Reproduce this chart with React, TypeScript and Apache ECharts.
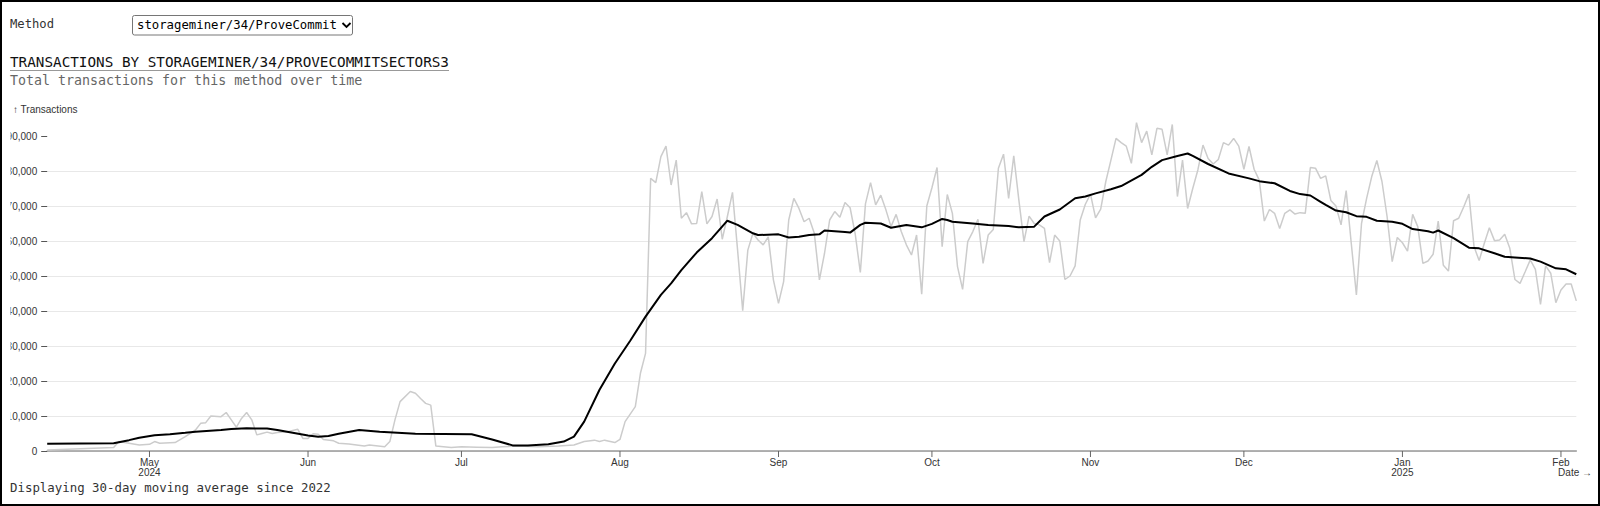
import React, { useEffect, useRef } from "react";
import * as echarts from "echarts";

// Daily transaction counts (gray line)
const daily: [string, number][] = [
  ["2024-04-11", 300], ["2024-04-24", 1000], ["2024-04-25", 2700], ["2024-04-27", 2200],
  ["2024-04-29", 1700], ["2024-05-01", 1900], ["2024-05-02", 2700], ["2024-05-03", 2200],
  ["2024-05-06", 2400], ["2024-05-08", 4100], ["2024-05-10", 6000], ["2024-05-11", 7900],
  ["2024-05-12", 8100], ["2024-05-13", 10000], ["2024-05-15", 9800], ["2024-05-16", 11000],
  ["2024-05-17", 8900], ["2024-05-18", 6800], ["2024-05-19", 9300], ["2024-05-20", 11000],
  ["2024-05-21", 8900], ["2024-05-22", 4600], ["2024-05-23", 5000], ["2024-05-24", 5400],
  ["2024-05-25", 5000], ["2024-05-26", 5300], ["2024-05-28", 5500], ["2024-05-30", 6200],
  ["2024-05-31", 3600], ["2024-06-01", 3600], ["2024-06-02", 4900], ["2024-06-03", 4800],
  ["2024-06-04", 3300], ["2024-06-06", 2900], ["2024-06-07", 2200], ["2024-06-09", 2000],
  ["2024-06-12", 1400], ["2024-06-13", 1700], ["2024-06-16", 1200], ["2024-06-17", 2700],
  ["2024-06-18", 8900], ["2024-06-19", 14100], ["2024-06-21", 17000], ["2024-06-22", 16500],
  ["2024-06-23", 15000], ["2024-06-24", 13600], ["2024-06-25", 13100], ["2024-06-26", 1400],
  ["2024-06-29", 1000], ["2024-07-01", 1200], ["2024-07-04", 1100], ["2024-07-07", 1000],
  ["2024-07-09", 1200], ["2024-07-12", 1400], ["2024-07-16", 1200], ["2024-07-20", 1400],
  ["2024-07-23", 1700], ["2024-07-25", 2700], ["2024-07-27", 3100], ["2024-07-28", 2700],
  ["2024-07-29", 3100], ["2024-07-31", 2400], ["2024-08-01", 3300], ["2024-08-02", 8400],
  ["2024-08-04", 12700], ["2024-08-05", 22200], ["2024-08-06", 27900], ["2024-08-07", 77900],
  ["2024-08-08", 76700], ["2024-08-09", 84100], ["2024-08-10", 87100], ["2024-08-11", 76000],
  ["2024-08-12", 83100], ["2024-08-13", 66500], ["2024-08-14", 68100], ["2024-08-15", 64900],
  ["2024-08-16", 65000], ["2024-08-17", 74100], ["2024-08-18", 64900], ["2024-08-19", 67000],
  ["2024-08-20", 72000], ["2024-08-21", 60500], ["2024-08-22", 67000], ["2024-08-23", 73900],
  ["2024-08-24", 57400], ["2024-08-25", 40100], ["2024-08-26", 57400], ["2024-08-27", 62200],
  ["2024-08-28", 60300], ["2024-08-29", 58900], ["2024-08-30", 61200], ["2024-08-31", 48900],
  ["2024-09-01", 42200], ["2024-09-02", 48400], ["2024-09-03", 66000], ["2024-09-04", 72200],
  ["2024-09-05", 69300], ["2024-09-06", 65500], ["2024-09-07", 66500], ["2024-09-08", 62200],
  ["2024-09-09", 48900], ["2024-09-10", 56500], ["2024-09-11", 66000], ["2024-09-12", 68400],
  ["2024-09-13", 66800], ["2024-09-14", 71000], ["2024-09-15", 69500], ["2024-09-16", 62000],
  ["2024-09-17", 51000], ["2024-09-18", 70600], ["2024-09-19", 76700], ["2024-09-20", 70300],
  ["2024-09-21", 73100], ["2024-09-22", 68900], ["2024-09-23", 64100], ["2024-09-24", 67600],
  ["2024-09-25", 62700], ["2024-09-26", 58900], ["2024-09-27", 56000], ["2024-09-28", 61700],
  ["2024-09-29", 44800], ["2024-09-30", 70000], ["2024-10-01", 75200], ["2024-10-02", 81000],
  ["2024-10-03", 58400], ["2024-10-04", 73300], ["2024-10-05", 67900], ["2024-10-06", 52700],
  ["2024-10-07", 46200], ["2024-10-08", 59800], ["2024-10-09", 62700], ["2024-10-10", 66200],
  ["2024-10-11", 53600], ["2024-10-12", 61700], ["2024-10-13", 63300], ["2024-10-14", 80800],
  ["2024-10-15", 84800], ["2024-10-16", 72200], ["2024-10-17", 84300], ["2024-10-18", 71700],
  ["2024-10-19", 59800], ["2024-10-20", 67100], ["2024-10-21", 65000], ["2024-10-22", 64600],
  ["2024-10-23", 63600], ["2024-10-24", 53800], ["2024-10-25", 61700], ["2024-10-26", 60000],
  ["2024-10-27", 49000], ["2024-10-28", 50000], ["2024-10-29", 52900], ["2024-10-30", 66000],
  ["2024-10-31", 70500], ["2024-11-01", 73400], ["2024-11-02", 66600], ["2024-11-03", 69100],
  ["2024-11-04", 77000], ["2024-11-05", 83100], ["2024-11-06", 89300], ["2024-11-07", 88100],
  ["2024-11-08", 87100], ["2024-11-09", 82200], ["2024-11-10", 93800], ["2024-11-11", 88100],
  ["2024-11-12", 91400], ["2024-11-13", 84600], ["2024-11-14", 92200], ["2024-11-15", 91900],
  ["2024-11-16", 84600], ["2024-11-17", 93300], ["2024-11-18", 72700], ["2024-11-19", 83100],
  ["2024-11-20", 69300], ["2024-11-21", 75000], ["2024-11-22", 80300], ["2024-11-23", 87400],
  ["2024-11-24", 83600], ["2024-11-25", 82000], ["2024-11-26", 83300], ["2024-11-27", 88100],
  ["2024-11-28", 87400], ["2024-11-29", 89300], ["2024-11-30", 87100], ["2024-12-01", 80500],
  ["2024-12-02", 87000], ["2024-12-03", 80500], ["2024-12-04", 77400], ["2024-12-05", 65700],
  ["2024-12-06", 69000], ["2024-12-07", 67900], ["2024-12-08", 63600], ["2024-12-09", 67900],
  ["2024-12-10", 68900], ["2024-12-11", 67700], ["2024-12-12", 68100], ["2024-12-13", 67900],
  ["2024-12-14", 81000], ["2024-12-15", 80800], ["2024-12-16", 77900], ["2024-12-17", 78600],
  ["2024-12-18", 71600], ["2024-12-19", 70000], ["2024-12-20", 64600], ["2024-12-21", 74400],
  ["2024-12-22", 59300], ["2024-12-23", 44600], ["2024-12-24", 65000], ["2024-12-25", 72200],
  ["2024-12-26", 78400], ["2024-12-27", 83000], ["2024-12-28", 77000], ["2024-12-29", 67000],
  ["2024-12-30", 54100], ["2024-12-31", 61000], ["2025-01-01", 59500], ["2025-01-02", 57100],
  ["2025-01-03", 67600], ["2025-01-04", 64100], ["2025-01-05", 53600], ["2025-01-06", 54300],
  ["2025-01-07", 56200], ["2025-01-08", 65700], ["2025-01-09", 53100], ["2025-01-10", 51400],
  ["2025-01-11", 65800], ["2025-01-12", 66500], ["2025-01-13", 69800], ["2025-01-14", 73400],
  ["2025-01-15", 58400], ["2025-01-16", 54400], ["2025-01-17", 59300], ["2025-01-18", 63800],
  ["2025-01-19", 60100], ["2025-01-20", 60300], ["2025-01-21", 61900], ["2025-01-22", 57900],
  ["2025-01-23", 49000], ["2025-01-24", 47900], ["2025-01-25", 51200], ["2025-01-26", 54600],
  ["2025-01-27", 51900], ["2025-01-28", 41900], ["2025-01-29", 52900], ["2025-01-30", 50800],
  ["2025-01-31", 42400], ["2025-02-01", 46000], ["2025-02-02", 47700], ["2025-02-03", 47700],
  ["2025-02-04", 42900],
];

// 30-day moving average (black line)
const movingAvg: [string, number][] = [
  ["2024-04-11", 2100], ["2024-04-24", 2200], ["2024-04-27", 3100], ["2024-04-29", 3800],
  ["2024-05-02", 4500], ["2024-05-05", 4800], ["2024-05-08", 5200], ["2024-05-10", 5500],
  ["2024-05-15", 6000], ["2024-05-17", 6300], ["2024-05-20", 6500], ["2024-05-24", 6400],
  ["2024-05-26", 6000], ["2024-05-29", 5200], ["2024-06-01", 4400], ["2024-06-03", 4100],
  ["2024-06-05", 4300], ["2024-06-07", 4900], ["2024-06-11", 6000], ["2024-06-15", 5500],
  ["2024-06-22", 4900], ["2024-07-03", 4800], ["2024-07-07", 3300], ["2024-07-11", 1600],
  ["2024-07-14", 1600], ["2024-07-18", 1900], ["2024-07-21", 2700], ["2024-07-23", 4100],
  ["2024-07-25", 8400], ["2024-07-28", 17500], ["2024-07-31", 25000], ["2024-08-03", 31500],
  ["2024-08-06", 38400], ["2024-08-09", 44600], ["2024-08-11", 47900], ["2024-08-13", 51700],
  ["2024-08-16", 56700], ["2024-08-19", 60800], ["2024-08-22", 65800], ["2024-08-24", 64600],
  ["2024-08-27", 62200], ["2024-08-28", 61700], ["2024-09-01", 61900], ["2024-09-03", 61000],
  ["2024-09-05", 61200], ["2024-09-07", 61700], ["2024-09-09", 61900], ["2024-09-10", 63000],
  ["2024-09-14", 62600], ["2024-09-15", 62400], ["2024-09-17", 64600], ["2024-09-18", 65200],
  ["2024-09-21", 65000], ["2024-09-23", 63800], ["2024-09-26", 64600], ["2024-09-29", 63900],
  ["2024-10-01", 64900], ["2024-10-03", 66300], ["2024-10-04", 66000], ["2024-10-05", 65500],
  ["2024-10-09", 65000], ["2024-10-12", 64600], ["2024-10-16", 64300], ["2024-10-18", 63900],
  ["2024-10-21", 64100], ["2024-10-23", 67000], ["2024-10-26", 69000], ["2024-10-29", 72200],
  ["2024-10-31", 72700], ["2024-11-02", 73600], ["2024-11-05", 74800], ["2024-11-07", 75700],
  ["2024-11-11", 78900], ["2024-11-13", 81200], ["2024-11-15", 83100], ["2024-11-18", 84300],
  ["2024-11-20", 85000], ["2024-11-21", 84300], ["2024-11-24", 82000], ["2024-11-28", 79300],
  ["2024-12-02", 77900], ["2024-12-04", 77100], ["2024-12-07", 76500], ["2024-12-10", 74300],
  ["2024-12-12", 73400], ["2024-12-14", 73000], ["2024-12-16", 71200], ["2024-12-17", 70300],
  ["2024-12-19", 68700], ["2024-12-21", 68200], ["2024-12-23", 67100], ["2024-12-25", 66900],
  ["2024-12-27", 65800], ["2024-12-30", 65500], ["2025-01-01", 64900], ["2025-01-03", 63400],
  ["2025-01-06", 62800], ["2025-01-07", 62400], ["2025-01-08", 63000], ["2025-01-11", 60800],
  ["2025-01-14", 58100], ["2025-01-16", 57900], ["2025-01-19", 56500], ["2025-01-21", 55500],
  ["2025-01-23", 55300], ["2025-01-26", 55000], ["2025-01-28", 54100], ["2025-01-31", 52200],
  ["2025-02-02", 51900], ["2025-02-04", 50500],
];

const dateStart = "2024-04-11";
const dateEnd = "2025-02-04";
const yMax = 93800;
const yTicks = [0, 10000, 20000, 30000, 40000, 50000, 60000, 70000, 80000, 90000];
const monthTicks = [
  "2024-05-01", "2024-06-01", "2024-07-01", "2024-08-01", "2024-09-01",
  "2024-10-01", "2024-11-01", "2024-12-01", "2025-01-01", "2025-02-01",
];
const monthLabels = ["May\n2024", "Jun", "Jul", "Aug", "Sep", "Oct", "Nov", "Dec", "Jan\n2025", "Feb"];

const methodLabel = "Method";
const methodValue = "storageminer/34/ProveCommit";
const titleText = "TRANSACTIONS BY STORAGEMINER/34/PROVECOMMITSECTORS3";
const subtitleText = "Total transactions for this method over time";
const yName = "↑ Transactions";
const xName = "Date →";
const footerText = "Displaying 30-day moving average since 2022";

function parseLocal(s: string): number {
  const [y, m, d] = s.split("-").map(Number);
  return new Date(y, m - 1, d).getTime();
}

const MONO = '"DejaVu Sans Mono", monospace';
const SANS = '"Liberation Sans", Arial, sans-serif';

export default function App() {
  const ref = useRef<HTMLDivElement>(null);

  useEffect(() => {
    if (!ref.current) return;
    const chart = echarts.init(ref.current, undefined, { renderer: "svg" });

    chart.setOption({
      animation: false,
      backgroundColor: "#fff",
      grid: { left: 47.2, right: 23.7, top: 122.7, bottom: 55, containLabel: false },
      xAxis: {
        type: "time",
        min: parseLocal(dateStart),
        max: parseLocal(dateEnd),
        axisLine: { show: true, lineStyle: { color: "#999", width: 1.5 } },
        axisTick: { show: false },
        axisLabel: { show: false },
        splitLine: { show: false },
      },
      yAxis: {
        type: "value",
        min: 0,
        max: yMax,
        interval: 10000,
        axisLine: { show: false },
        axisTick: { show: true, customValues: yTicks, length: 6, lineStyle: { color: "#555", width: 1 } },
        axisLabel: {
          customValues: yTicks,
          formatter: (v: number) => v.toLocaleString("en-US"),
          fontSize: 10,
          fontFamily: SANS,
          color: "#333",
          margin: 10,
        },
        splitLine: { show: true, showMaxLine: false, lineStyle: { color: "#e8e8e8", width: 1 } },
      },
      series: [
        {
          type: "line",
          data: daily.map(([d, v]) => [parseLocal(d), v]),
          symbol: "none",
          lineStyle: { color: "#cccccc", width: 1.5 },
          z: 2,
        },
        {
          type: "line",
          data: movingAvg.map(([d, v]) => [parseLocal(d), v]),
          symbol: "none",
          lineStyle: { color: "#000", width: 2 },
          z: 3,
        },
      ],
    });

    // Month ticks and labels positioned through the x axis scale
    const axisY = chart.convertToPixel({ yAxisIndex: 0 }, 0) as number;
    const monthGraphics: any[] = [];
    monthTicks.forEach((d, i) => {
      const px = chart.convertToPixel({ xAxisIndex: 0 }, parseLocal(d)) as number;
      monthGraphics.push({
        type: "line", z: 100,
        shape: { x1: px, y1: axisY, x2: px, y2: axisY + 6 },
        style: { stroke: "#666", lineWidth: 1 },
      });
      monthGraphics.push({
        type: "text", x: px, y: axisY + 6, z: 100,
        style: {
          text: monthLabels[i], fontSize: 10, fontFamily: SANS, fill: "#333",
          lineHeight: 10, textAlign: "center", textVerticalAlign: "top",
        },
      });
    });

    chart.setOption({
      graphic: [
        ...monthGraphics,
        {
          type: "text", x: 10, y: 24.3, z: 100,
          style: { text: methodLabel, fontSize: 12.2, fontFamily: MONO, fill: "#333", textVerticalAlign: "middle" },
        },
        {
          type: "rect", z: 100,
          shape: { x: 132.5, y: 15.5, width: 220, height: 19.5, r: 2 },
          style: { fill: "#fff", stroke: "#767676", lineWidth: 1 },
        },
        {
          type: "text", x: 137, y: 25.3, z: 101,
          style: { text: methodValue, fontSize: 12.3, fontFamily: MONO, fill: "#000", textVerticalAlign: "middle" },
        },
        {
          type: "polyline", z: 101,
          shape: { points: [[342.5, 23], [346.5, 27], [350.5, 23]] },
          style: { stroke: "#000", lineWidth: 1.8, fill: "none" },
        },
        {
          type: "text", x: 10, y: 61.7, z: 100,
          style: { text: titleText, fontSize: 14.3, fontFamily: MONO, fill: "#111", textVerticalAlign: "middle" },
        },
        {
          type: "line", z: 100,
          shape: { x1: 10, y1: 70.5, x2: 449, y2: 70.5 },
          style: { stroke: "#999", lineWidth: 1 },
        },
        {
          type: "text", x: 10, y: 80.7, z: 100,
          style: { text: subtitleText, fontSize: 13.3, fontFamily: MONO, fill: "#666", textVerticalAlign: "middle" },
        },
        {
          type: "text", x: 13, y: 109.3, z: 100,
          style: { text: yName, fontSize: 10, fontFamily: SANS, fill: "#333", textVerticalAlign: "middle" },
        },
        {
          type: "text", x: 1592, y: 472.3, z: 100,
          style: { text: xName, fontSize: 10, fontFamily: SANS, fill: "#333", textAlign: "right", textVerticalAlign: "middle" },
        },
        {
          type: "text", x: 10, y: 487.7, z: 100,
          style: { text: footerText, fontSize: 12.4, fontFamily: MONO, fill: "#333", textVerticalAlign: "middle" },
        },
        {
          type: "rect", z: 200,
          shape: { x: 2, y: 115, width: 8.5, height: 350 },
          style: { fill: "#fff" },
        },
        {
          type: "rect", z: 201,
          shape: { x: 1, y: 1, width: 1598, height: 504 },
          style: { fill: "none", stroke: "#000", lineWidth: 2 },
        },
      ],
    });

    return () => chart.dispose();
  }, []);

  return (
    <div
      ref={ref}
      style={{ position: "fixed", left: 0, top: 0, width: 1600, height: 506, background: "#fff" }}
    />
  );
}
